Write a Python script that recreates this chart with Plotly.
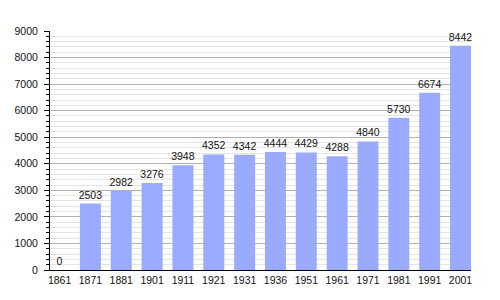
import plotly.graph_objects as go

years = ["1861", "1871", "1881", "1901", "1911", "1921", "1931", "1936",
         "1951", "1961", "1971", "1981", "1991", "2001"]
population = [0, 2503, 2982, 3276, 3948, 4352, 4342, 4444, 4429, 4288,
              4840, 5730, 6674, 8442]

fig = go.Figure(go.Bar(
    x=years, y=population,
    marker=dict(color="#99AAFF", line=dict(width=0)),
    width=0.68,
    text=[str(v) for v in population],
    textposition="outside",
    constraintext="none",
    cliponaxis=False,
    textfont=dict(family="Liberation Sans, Arial", size=10.5, color="#111"),
))

fig.update_layout(
    width=500, height=300,
    margin=dict(l=50, r=29, t=31, b=30),
    paper_bgcolor="white", plot_bgcolor="white",
    showlegend=False,
    font=dict(family="Liberation Sans, Arial", size=10.5, color="#111"),
    xaxis=dict(
        type="category", range=[-0.31, 13.34],
        showline=True, linecolor="black", linewidth=1,
        ticks="", showgrid=False, tickfont=dict(size=10.5),
    ),
    yaxis=dict(
        range=[0, 9000], dtick=1000,
        showline=True, linecolor="black", linewidth=1,
        ticks="outside", ticklen=5, tickcolor="black",
        gridcolor="#B0B0B0", gridwidth=1,
        zeroline=False,
        minor=dict(dtick=200, ticks="outside", ticklen=3, tickcolor="black",
                   showgrid=True, gridcolor="#E4E4E4", gridwidth=1),
        tickfont=dict(size=10.5),
        ticklabelstandoff=4,
    ),
)

fig.write_html("out.html")
